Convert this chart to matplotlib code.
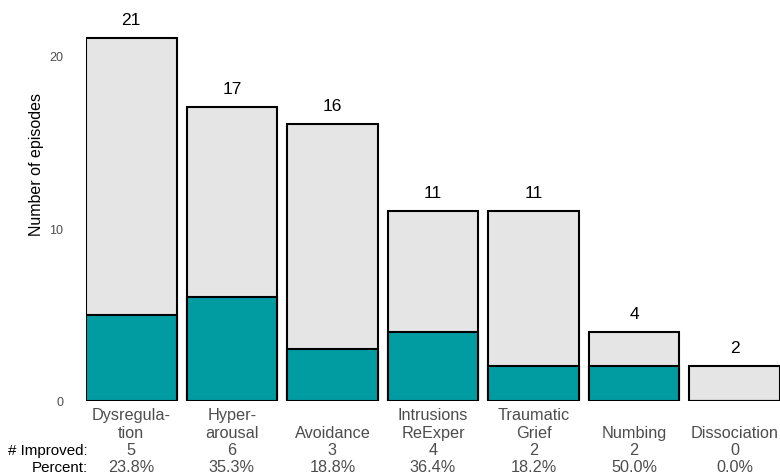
import matplotlib
matplotlib.use("Agg")
import matplotlib.pyplot as plt

categories = ["Dysregula-\ntion", "Hyper-\narousal", "Avoidance", "Intrusions\nReExper",
              "Traumatic\nGrief", "Numbing", "Dissociation"]
totals = [21, 17, 16, 11, 11, 4, 2]
improved = [5, 6, 3, 4, 2, 2, 0]
yticks = [0, 10, 20]

plt.rcParams['font.family'] = ['Liberation Sans', 'DejaVu Sans']

fig = plt.figure(figsize=(7.8, 4.77), dpi=100)
W, H = 780, 477
left_px, right_px = 86, 780
bottom_px, top_px = 402, 13
ax = fig.add_axes([left_px / W, 1 - bottom_px / H, (right_px - left_px) / W, (bottom_px - top_px) / H])

x = list(range(len(categories)))
ax.bar(x, totals, width=0.9, color="#e5e5e5", edgecolor="black", linewidth=1.5, zorder=2)
ax.bar(x, improved, width=0.9, color="#009ca1", edgecolor="black", linewidth=1.5, zorder=3)

for xi, t in zip(x, totals):
    ax.annotate(str(t), (xi, t), xytext=(0, 8), textcoords="offset points",
                ha="center", va="bottom", fontsize=12.5, color="black")

ax.set_xlim(-0.45, 6.45)
ax.set_ylim(0, 22.5)
ax.set_yticks(yticks)
ax.set_yticklabels([str(v) for v in yticks], fontsize=9, color="#4d4d4d")
ax.tick_params(axis="y", length=0, pad=16.5)
ax.set_xticks([])
for s in ax.spines.values():
    s.set_visible(False)

fig.text(37 / W, 1 - 165 / H, "Number of episodes", rotation=90, ha="center", va="center",
         fontsize=11.5, color="black")

ytop = 1 - 408.5 / H
for xi, cat, imp, tot in zip(x, categories, improved, totals):
    lines = cat.split("\n")
    if len(lines) == 1:
        lines = [""] + lines
    pct = 100.0 * imp / tot
    txt = "\n".join(lines + [str(imp), f"{pct:.1f}%"])
    xf = (left_px + (xi + 0.45) * (right_px - left_px) / 6.9) / W
    fig.text(xf, ytop, txt, ha="center", va="top", fontsize=11.7, color="#4d4d4d",
             linespacing=1.19, multialignment="center")

fig.text(88 / W, 1 - 409.5 / H, "\n\n# Improved:\nPercent:", ha="right", va="top", fontsize=10.9,
         color="black", linespacing=1.19 * 11.7 / 10.9, multialignment="right")

fig.savefig("out.png", dpi=100)
